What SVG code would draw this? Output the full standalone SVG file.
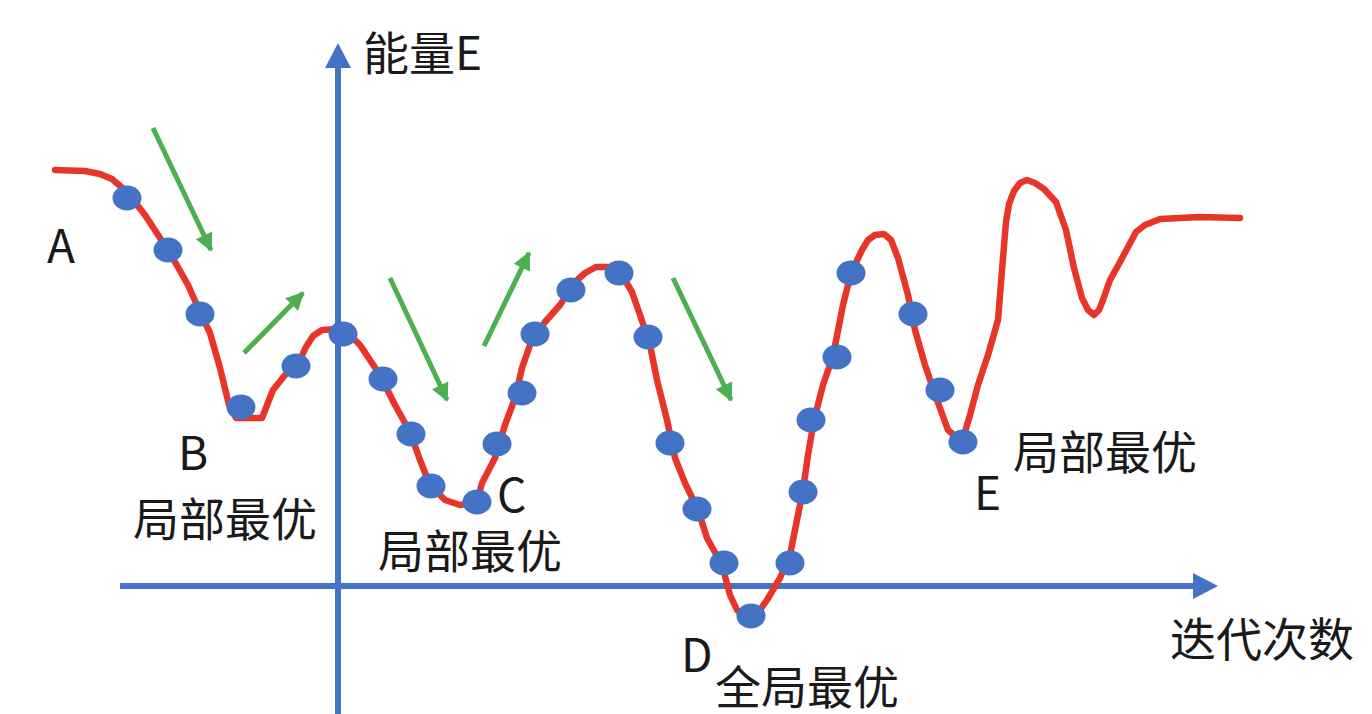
<svg xmlns="http://www.w3.org/2000/svg" width="1372" height="714" viewBox="0 0 1372 714">
<style>
.axis{stroke:#4472C4;stroke-width:6;fill:none}
.axhead{fill:#4472C4}
.curve{stroke:#E8352A;stroke-width:6.5;fill:none;stroke-linejoin:round;stroke-linecap:round}
.dot{fill:#4472C4}
.garrow{stroke:#4DAF50;stroke-width:5;fill:none;marker-end:url(#gh)}
.lbl{font-family:"Noto Sans CJK SC","Noto Sans",sans-serif;font-size:46px;fill:#1a1a1a}
</style>
<defs>
<marker id="gh" viewBox="0 0 10 10" refX="9" refY="5" markerWidth="22" markerHeight="18" orient="auto" markerUnits="userSpaceOnUse">
<path d="M0,0 L10,5 L0,10 z" fill="#4DAF50"/>
</marker>
</defs>
<rect width="1372" height="714" fill="#ffffff"/>
<g id="connectors">
<g id="axes">
<line class="axis" x1="338" y1="714" x2="338" y2="62"/>
<polygon class="axhead" points="338,43 325,68 351,68"/>
<line class="axis" x1="120" y1="586" x2="1198" y2="586"/>
<polygon class="axhead" points="1218,586 1193,573 1193,599"/>
</g>
<g id="trend-arrows">
<line class="garrow" x1="153" y1="128" x2="211" y2="250"/>
<line class="garrow" x1="244" y1="353" x2="303" y2="293"/>
<line class="garrow" x1="390" y1="278" x2="447" y2="400"/>
<line class="garrow" x1="484" y1="346" x2="529" y2="253"/>
<line class="garrow" x1="673" y1="278" x2="731" y2="400"/>
</g>
</g>
<g id="energy-curve">
<path class="curve" d="M55,170 L85,171 L100,174 L112,179 L127,192 L145,215 L160,238 L175,262 L188,285 L200,312 L210,333 L220,368 L229,405 L236,418 L262,418 L273,390 L285,375 L300,360 L306,347 L313,336 L322,330 L338,329 L350,335 L360,345 L370,360 L380,375 L395,405 L410,432 L420,460 L430,485 L445,500 L460,505 L477,502 L482,483 L495,458 L505,425 L515,398 L522,368 L530,345 L545,322 L560,305 L575,282 L585,273 L596,267 L610,267 L622,275 L632,292 L640,315 L650,345 L657,380 L667,420 L675,458 L685,483 L698,510 L707,538 L722,565 L730,595 L737,610 L745,618 L755,617 L767,600 L780,578 L790,555 L796,525 L803,490 L808,455 L814,420 L823,385 L833,356 L843,305 L851,273 L862,250 L868,240 L875,235 L884,234 L891,240 L898,258 L908,295 L915,330 L925,365 L937,400 L948,430 L962,442 L970,415 L978,385 L988,355 L998,320 L1002,270 L1006,222 L1009,204 L1014,191 L1020,183 L1027,180 L1035,183 L1044,189 L1056,202 L1066,230 L1074,268 L1082,298 L1088,310 L1094,315 L1099,310 L1103,300 L1110,280 L1120,262 L1136,232 L1145,225 L1160,219 L1200,217 L1240,218"/>
</g>
<g id="samples">
<ellipse class="dot" cx="127" cy="198" rx="14.5" ry="12.5"/>
<ellipse class="dot" cx="168" cy="250" rx="14.5" ry="12.5"/>
<ellipse class="dot" cx="200" cy="314" rx="14.5" ry="12.5"/>
<ellipse class="dot" cx="241" cy="407" rx="14.5" ry="12.5"/>
<ellipse class="dot" cx="296" cy="366" rx="14.5" ry="12.5"/>
<ellipse class="dot" cx="343" cy="334" rx="14.5" ry="12.5"/>
<ellipse class="dot" cx="383" cy="379" rx="14.5" ry="12.5"/>
<ellipse class="dot" cx="411" cy="434" rx="14.5" ry="12.5"/>
<ellipse class="dot" cx="431" cy="486" rx="14.5" ry="12.5"/>
<ellipse class="dot" cx="477" cy="502" rx="14.5" ry="12.5"/>
<ellipse class="dot" cx="497" cy="444" rx="14.5" ry="12.5"/>
<ellipse class="dot" cx="522" cy="393" rx="14.5" ry="12.5"/>
<ellipse class="dot" cx="535" cy="334" rx="14.5" ry="12.5"/>
<ellipse class="dot" cx="571" cy="290" rx="14.5" ry="12.5"/>
<ellipse class="dot" cx="619" cy="273" rx="14.5" ry="12.5"/>
<ellipse class="dot" cx="648" cy="337" rx="14.5" ry="12.5"/>
<ellipse class="dot" cx="670" cy="443" rx="14.5" ry="12.5"/>
<ellipse class="dot" cx="697" cy="509" rx="14.5" ry="12.5"/>
<ellipse class="dot" cx="724" cy="563" rx="14.5" ry="12.5"/>
<ellipse class="dot" cx="751" cy="616" rx="14.5" ry="12.5"/>
<ellipse class="dot" cx="790" cy="563" rx="14.5" ry="12.5"/>
<ellipse class="dot" cx="803" cy="492" rx="14.5" ry="12.5"/>
<ellipse class="dot" cx="811" cy="420" rx="14.5" ry="12.5"/>
<ellipse class="dot" cx="837" cy="357" rx="14.5" ry="12.5"/>
<ellipse class="dot" cx="851" cy="273" rx="14.5" ry="12.5"/>
<ellipse class="dot" cx="913" cy="314" rx="14.5" ry="12.5"/>
<ellipse class="dot" cx="940" cy="390" rx="14.5" ry="12.5"/>
<ellipse class="dot" cx="963" cy="442" rx="14.5" ry="12.5"/>
</g>
<g id="labels">
<text class="lbl" x="363" y="70">能量E</text>
<text class="lbl" x="1170" y="656">迭代次数</text>
<text class="lbl" x="47" y="263">A</text>
<text class="lbl" x="178" y="470">B</text>
<text class="lbl" x="133" y="536">局部最优</text>
<text class="lbl" x="497" y="512">C</text>
<text class="lbl" x="378" y="568">局部最优</text>
<text class="lbl" x="681" y="672">D</text>
<text class="lbl" x="715" y="704">全局最优</text>
<text class="lbl" x="974" y="510">E</text>
<text class="lbl" x="1013" y="469">局部最优</text>
</g>
</svg>
